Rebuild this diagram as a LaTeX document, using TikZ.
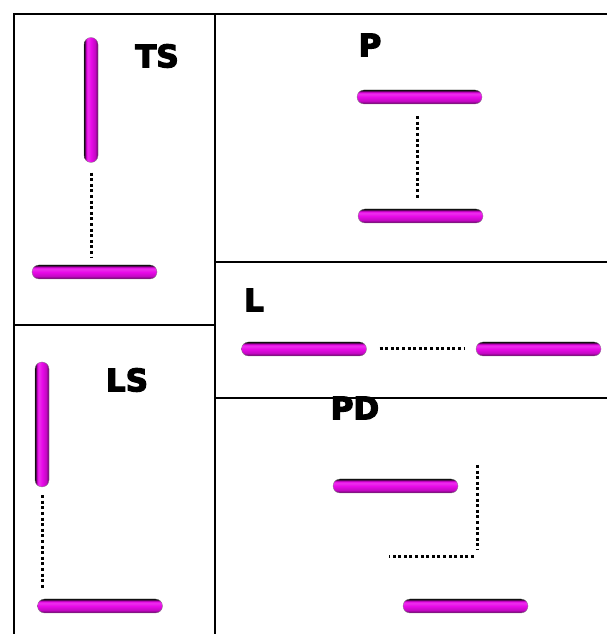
\documentclass[tikz,border=0pt]{standalone}
\usepackage{fontspec}
\setmainfont{DejaVu Sans}[BoldFeatures={FakeBold=4}]
\usepackage{tikz}
\usetikzlibrary{calc,positioning}
\usepackage{xcolor}
\definecolor{rodpink}{RGB}{232,10,232}
\definecolor{roddark}{RGB}{40,0,40}
\pgfdeclareverticalshading{rodshade}{100bp}{color(0bp)=(black); color(25bp)=(roddark);
  color(28bp)=(rodpink!55!black); color(36bp)=(rodpink!85!black); color(50bp)=(rodpink);
  color(60bp)=(rodpink!85!white); color(66bp)=(rodpink); color(71bp)=(rodpink!45!black);
  color(75bp)=(black); color(100bp)=(black)}

\begin{document}
\begin{tikzpicture}[x=1pt, y=1pt,
    hrod/.style={rounded corners=7pt, minimum width=125pt, minimum height=14pt, inner sep=0pt,
      shading=rodshade, draw=black!50, line width=0.3pt},
    vrod/.style={rounded corners=7pt, minimum width=14pt, minimum height=125pt, inner sep=0pt,
      shading=rodshade, shading angle=90, draw=black!50, line width=0.3pt},
    bond/.style={line width=3pt, dash pattern=on 3pt off 2.6pt},
    panel/.style={line width=2.3pt},
    every node/.style={font=\bfseries\fontsize{31}{34}\selectfont}]
      \useasboundingbox (0,0) rectangle (607,634);
      % frame
      \draw[panel] (14,0) -- (14,620) -- (607,620);
      \draw[panel] (215,620) -- (215,0);
      \draw[panel] (14,309) -- (215,309);
      \draw[panel] (215,372) -- (607,372);
      \draw[panel] (215,236) -- (607,236);
      % TS
      \node[vrod] (tsup) at (91,534) {};
      \node[hrod] (tsdown) at (94.5,362) {};
      \node (tslabel) at (157,578) {TS};
      \draw[bond] ([yshift=-10pt]tsup.south) -- ([yshift=8pt]tsup.south |- tsdown.north);
      % P
      \node[hrod] (ptop) at (419.5,537) {};
      \node[hrod] (pbot) at (420.5,418) {};
      \node (plabel) at (370,589) {P};
      \draw[bond] ([xshift=-2.5pt,yshift=-12pt]ptop.south) -- ([xshift=-2.5pt,yshift=10pt]ptop.south |- pbot.north);
      % L
      \node[hrod] (lleft) at (304,285) {};
      \node[hrod] (lright) at (538.5,285) {};
      \node (llabel) at (254,334) {L};
      \draw[bond] ([xshift=13pt]lleft.east) -- ([xshift=-12pt]lright.west);
      % PD
      \node[hrod] (pdtop) at (395.5,148) {};
      \node[hrod] (pdbot) at (465.5,28) {};
      \node (pdlabel) at (355,226) {PD};
      \coordinate (pdbend) at (477,77);
      \coordinate (pdmark) at ([yshift=21pt]pdtop.east);
      \draw[bond] (pdbend |- pdmark) -- ([yshift=7pt]pdbend);
      \draw[bond] ([xshift=-3pt]pdbend) -- ([xshift=-14pt]pdbot.west |- pdbend);
      % LS
      \node[vrod] (lsup) at (42,209.5) {};
      \node[hrod] (lsdown) at (100,28) {};
      \node (lslabel) at (127,254) {LS};
      \draw[bond] ([yshift=-8pt]lsup.south) -- ([yshift=9.5pt]lsup.south |- lsdown.north);
    \end{tikzpicture}
\end{document}
